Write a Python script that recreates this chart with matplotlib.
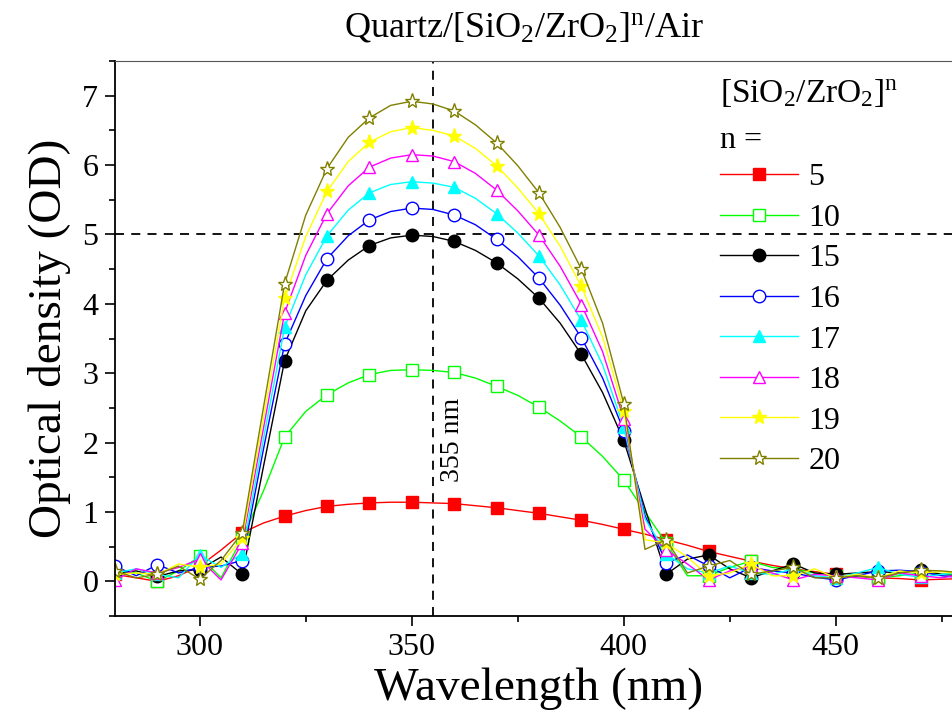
import matplotlib
matplotlib.use('agg')
import matplotlib.pyplot as plt
from matplotlib.ticker import MultipleLocator

# wavelength grid (nm), 5 nm steps
wavelength = list(range(280, 485, 5))

# optical density for each number of SiO2/ZrO2 pairs
od_5 = [0.10, 0.05, 0.00, 0.08, 0.22, 0.45, 0.70, 0.84, 0.94, 1.02, 1.08, 1.11, 1.13, 1.14,
        1.14, 1.13, 1.12, 1.09, 1.06, 1.02, 0.98, 0.93, 0.88, 0.82, 0.75, 0.68, 0.60, 0.52,
        0.43, 0.36, 0.29, 0.23, 0.18, 0.14, 0.10, 0.07, 0.05, 0.04, 0.02, 0.03, 0.04]
od_10 = [0.15, 0.12, 0.00, 0.15, 0.36, 0.05, 0.62, 1.30, 2.08, 2.45, 2.69, 2.86, 2.98, 3.04,
         3.05, 3.04, 3.01, 2.93, 2.81, 2.68, 2.51, 2.31, 2.08, 1.80, 1.46, 1.00, 0.55, 0.08,
         0.08, 0.20, 0.29, 0.20, 0.18, 0.12, 0.08, 0.08, 0.05, 0.08, 0.12, 0.10, 0.12]
od_15 = [0.12, 0.15, 0.07, 0.15, 0.17, 0.35, 0.10, 1.65, 3.18, 3.90, 4.34, 4.63, 4.84, 4.95,
         4.99, 4.97, 4.90, 4.77, 4.59, 4.36, 4.08, 3.72, 3.27, 2.72, 2.03, 1.05, 0.10, 0.32,
         0.38, 0.18, 0.05, 0.15, 0.25, 0.12, 0.10, 0.12, 0.14, 0.12, 0.16, 0.10, 0.08]
od_16 = [0.22, 0.08, 0.24, 0.12, 0.20, 0.22, 0.30, 1.90, 3.42, 4.12, 4.65, 4.98, 5.21, 5.33,
         5.38, 5.36, 5.28, 5.14, 4.93, 4.68, 4.37, 3.98, 3.51, 2.93, 2.17, 0.95, 0.27, 0.38,
         0.22, 0.05, 0.20, 0.15, 0.12, 0.06, 0.02, 0.08, 0.15, 0.16, 0.14, 0.08, 0.05]
od_17 = [0.12, 0.18, 0.10, 0.05, 0.38, 0.20, 0.40, 2.05, 3.66, 4.42, 4.98, 5.35, 5.60, 5.72,
         5.76, 5.74, 5.68, 5.52, 5.30, 5.02, 4.69, 4.27, 3.76, 3.12, 2.22, 0.90, 0.40, 0.18,
         0.12, 0.22, 0.12, 0.10, 0.18, 0.08, 0.05, 0.12, 0.20, 0.10, 0.06, 0.10, 0.12]
od_18 = [0.02, 0.18, 0.12, 0.20, 0.32, 0.02, 0.55, 2.20, 3.87, 4.70, 5.30, 5.70, 5.97, 6.10,
         6.15, 6.13, 6.05, 5.88, 5.64, 5.34, 4.99, 4.54, 3.99, 3.31, 2.34, 0.75, 0.45, 0.25,
         0.02, 0.15, 0.22, 0.12, 0.02, 0.10, 0.08, 0.05, 0.02, 0.12, 0.08, 0.05, 0.10]
od_19 = [0.10, 0.12, 0.10, 0.25, 0.20, 0.25, 0.62, 2.35, 4.08, 4.97, 5.62, 6.05, 6.33, 6.48,
         6.54, 6.50, 6.42, 6.24, 5.99, 5.67, 5.30, 4.83, 4.25, 3.52, 2.46, 0.60, 0.55, 0.35,
         0.08, 0.12, 0.25, 0.08, 0.08, 0.18, 0.05, 0.10, 0.05, 0.15, 0.12, 0.14, 0.10]
od_20 = [0.15, 0.05, 0.10, 0.22, 0.03, 0.30, 0.70, 2.50, 4.29, 5.28, 5.95, 6.40, 6.68, 6.86,
         6.92, 6.88, 6.78, 6.58, 6.32, 5.99, 5.60, 5.10, 4.50, 3.72, 2.56, 0.46, 0.60, 0.12,
         0.22, 0.30, 0.10, 0.15, 0.20, 0.05, 0.05, 0.08, 0.05, 0.12, 0.16, 0.15, 0.12]

labels = ['5', '10', '15', '16', '17', '18', '19', '20']
series = [od_5, od_10, od_15, od_16, od_17, od_18, od_19, od_20]
colors = ['#FF0000', '#00FF00', '#000000', '#0000FF', '#00FFFF', '#FF00FF', '#FFFF00', '#808000']
markers = ['s', 's', 'o', 'o', '^', '^', '*', '*']
filled = [True, False, True, False, True, False, True, False]

plt.rcParams['font.family'] = ['Liberation Serif', 'DejaVu Serif']
plt.rcParams['mathtext.fontset'] = 'custom'
plt.rcParams['mathtext.rm'] = 'Liberation Serif'
plt.rcParams['mathtext.it'] = 'Liberation Serif:italic'

fig = plt.figure(figsize=(9.52, 7.25), dpi=100)
ax = fig.add_axes([115 / 952, 109 / 725, 848 / 952, 555 / 725])

for y, lab, c, m, f in zip(series, labels, colors, markers, filled):
    ms = 11 if m == '*' else 9
    ax.plot(wavelength, y, color=c, lw=1.0, marker=m, markevery=2, markersize=ms,
            markerfacecolor=c if f else 'white', markeredgecolor=c, markeredgewidth=1.0,
            label=lab)

# guide lines
ax.axvline(355, color='black', lw=1.3, ls=(0, (5, 4)), zorder=0)
ax.axhline(5, color='black', lw=1.3, ls=(0, (5, 4)), zorder=0)
ax.text(359.5, 2.04, '355 nm', rotation=90, ha='center', va='center', fontsize=20)

ax.set_xlim(280, 480)
ax.set_ylim(-0.5, 7.5)
ax.xaxis.set_major_locator(MultipleLocator(50))
ax.xaxis.set_minor_locator(MultipleLocator(25))
ax.yaxis.set_major_locator(MultipleLocator(1))
ax.yaxis.set_minor_locator(MultipleLocator(0.5))
ax.set_yticks(range(0, 8))
ax.tick_params(which='major', direction='out', length=7, width=1.2, labelsize=23, pad=5)
ax.tick_params(which='minor', direction='out', length=4, width=1.2)
ax.tick_params(top=False, right=False)
for s in ['left', 'bottom']:
    ax.spines[s].set_linewidth(1.3)
ax.spines['top'].set_linewidth(0.8)
ax.spines['top'].set_color('#555555')

ax.set_xlabel('Wavelength (nm)', fontsize=34, labelpad=4)
ax.set_ylabel('Optical density (OD)', fontsize=34, labelpad=8)

fig.text(524 / 952, 1 - 36 / 725, r'Quartz/[SiO$_2$/ZrO$_2$]$^{\mathrm{n}}$/Air',
         ha='center', va='baseline', fontsize=26)

# legend header
fig.text(720 / 952, 1 - 93 / 725, r'[SiO$_2$/ZrO$_2$]$^{\mathrm{n}}$', ha='left', va='center', fontsize=24)
fig.text(720 / 952, 1 - 140 / 725, 'n =', ha='left', va='center', fontsize=23)
leg = ax.legend(loc='upper left', bbox_to_anchor=(720 / 952, 1 - 163 / 725),
                bbox_transform=fig.transFigure, frameon=False, fontsize=23,
                numpoints=1, handlelength=2.45, handletextpad=0.31, labelspacing=0.35,
                borderpad=0, borderaxespad=0)

plt.savefig('out.png', dpi=100)
plt.close()
